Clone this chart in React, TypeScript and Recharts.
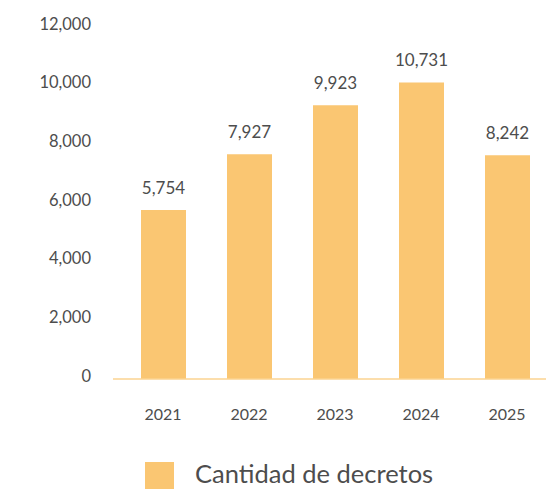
import { Bar, BarChart, LabelList, Legend, XAxis, YAxis } from "recharts"

const years = ["2021", "2022", "2023", "2024", "2025"]
// bar heights as drawn in the picture
const barValues = [5760, 7660, 9330, 10110, 7630]
// value labels printed above the bars
const labelTexts = ["5,754", "7,927", "9,923", "10,731", "8,242"]
const yTicks = [0, 2000, 4000, 6000, 8000, 10000, 12000]
const seriesName = "Cantidad de decretos"

const FONT = "Lato, 'Open Sans', sans-serif"
const TEXT = "#4d4d4d"
const BAR = "#FAC672"
const AXIS = "#FBD390"

const chartData = years.map((year, i) => ({
  year,
  value: barValues[i],
  label: labelTexts[i],
}))

function YTick({ x, y, payload }: any) {
  return (
    <text x={x} y={y - 3} dy="0.35em" textAnchor="end" fill={TEXT} fontSize={16.5} fontFamily={FONT}>
      {payload.value.toLocaleString("en-US")}
    </text>
  )
}

function XTick({ x, y, payload }: any) {
  return (
    <text x={x} y={y} dy="0.72em" textAnchor="middle" fill={TEXT} fontSize={16} fontFamily={FONT}>
      {payload.value}
    </text>
  )
}

function LegendContent() {
  return (
    <svg width={552} height={40} style={{ display: "block" }}>
      <rect x={145} y={13} width={29} height={29} fill={BAR} />
      <text x={195} y={33.5} fill={TEXT} fontSize={25.5} fontFamily={FONT}>
        {seriesName}
      </text>
    </svg>
  )
}

export default function App() {
  return (
    <div style={{ position: "absolute", left: 0, top: 0, width: 546, height: 489, overflow: "hidden", background: "#fff" }}>
      <BarChart
        width={552}
        height={489}
        data={chartData}
        margin={{ top: 27, right: 2, left: 0, bottom: 0 }}
        barSize={45}
      >
        <XAxis
          dataKey="year"
          height={70}
          padding={{ left: 7, right: 0 }}
          axisLine={{ stroke: AXIS, strokeWidth: 1.5 }}
          tickLine={false}
          tickSize={0}
          tickMargin={29}
          tick={<XTick />}
        />
        <YAxis
          width={113}
          domain={[0, 12000]}
          ticks={yTicks}
          axisLine={false}
          tickLine={false}
          tickSize={0}
          tickMargin={22}
          tick={<YTick />}
        />
        <Legend
          verticalAlign="bottom"
          height={40}
          wrapperStyle={{ left: 0, width: 552 }}
          content={<LegendContent />}
        />
        <Bar dataKey="value" name={seriesName} fill={BAR} isAnimationActive={false}>
          <LabelList
            dataKey="label"
            position="top"
            offset={16}
            fill={TEXT}
            fontSize={17}
            fontFamily={FONT}
          />
        </Bar>
      </BarChart>
    </div>
  )
}
